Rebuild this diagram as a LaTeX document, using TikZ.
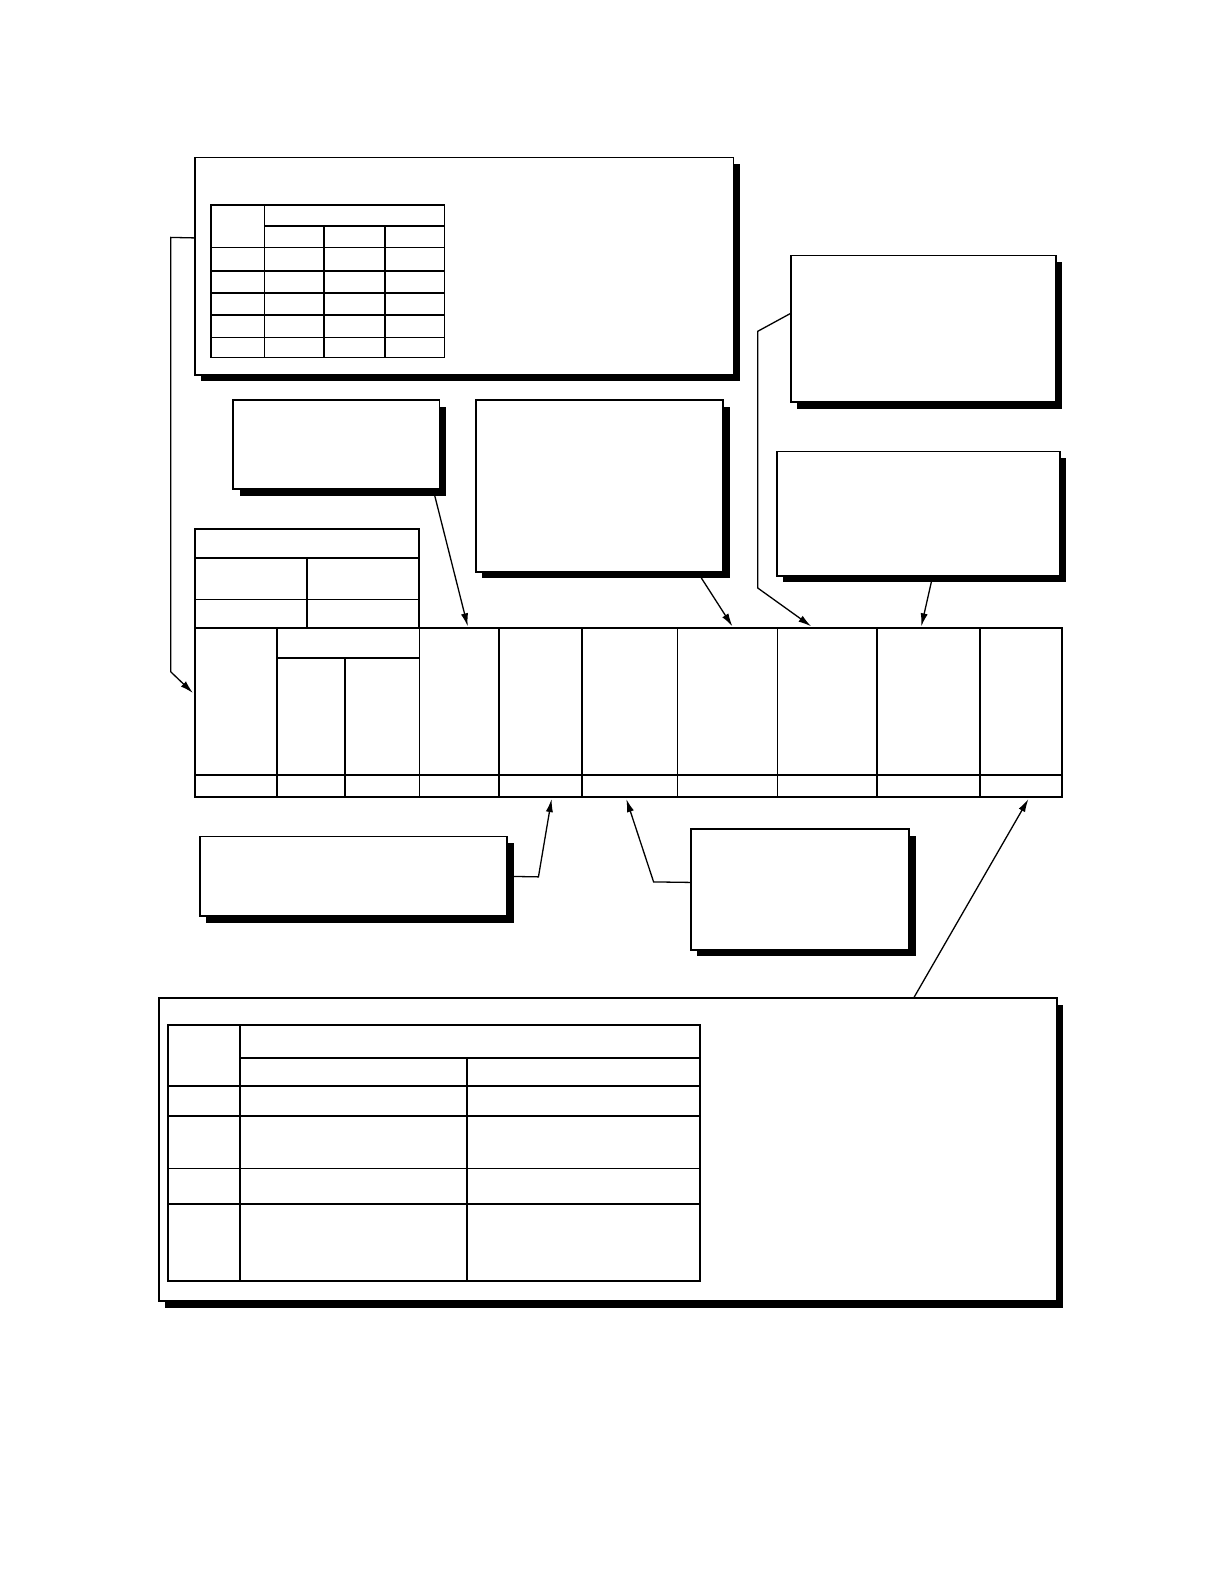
\documentclass[tikz,border=0pt]{standalone}
\usetikzlibrary{arrows.meta,shadows,fit,calc}

\tikzset{
  panel/.style={draw=black, line width=0.9pt, fill=white, inner sep=0pt,
    drop shadow={shadow xshift=3.2pt, shadow yshift=-3.3pt, fill=black, opacity=1}},
  grid/.style={line width=1pt},
  fine/.style={line width=0.55pt},
  lead/.style={line width=0.65pt, -{Latex[length=6.5pt,width=3.6pt]}}
}

\begin{document}
\begin{tikzpicture}
  [x=0.505pt,y=-0.505pt,line width=0.8pt]
  \useasboundingbox (0,0) rectangle (1212,1568);

  % callout panels
  \node[panel, fit={(193,156) (726,371)}] (keyA) {};
  \node[panel, fit={(231,396) (435,484)}] (noteB) {};
  \node[panel, fit={(471,396) (716,566)}] (noteC) {};
  \node[panel, fit={(783,253) (1045,398)}] (noteD) {};
  \node[panel, fit={(769,447) (1049,570)}] (noteE) {};
  \node[panel, fit={(198,828) (502,907)}] (noteF) {};
  \node[panel, fit={(684,821) (900,940)}] (noteG) {};
  \node[panel, fit={(157,988) (1046,1288)}] (keyH) {};

  % table inside top panel
  \draw (209,203) rectangle (440,354);
  \foreach \y in {245,268,290,312,334}
    \draw (209,\y) -- (440,\y);
  \draw (262,224) -- (440,224);
  \draw (262,203) -- (262,354);
  \foreach \x in {321,381}
    \draw (\x,224) -- (\x,354);

  % heading block over the form
  \draw[grid] (193,524) rectangle (415,622);
  \draw[grid] (193,552) -- (415,552);
  \draw[fine] (193,593) -- (415,593);
  \draw[grid] (304,552) -- (304,622);

  % main form
  \draw[grid] (193,622) rectangle (1051,789);
  \draw[grid] (193,767) -- (1051,767);
  \foreach \x in {274,494,576,868,970}
    \draw[grid] (\x,622) -- (\x,789);
  \foreach \x in {415,671,770}
    \draw[fine] (\x,622) -- (\x,789);
  \draw[grid] (274,651) -- (415,651);
  \draw[grid] (342,651) -- (342,789);

  % table inside bottom panel
  \draw[grid] (166,1015) rectangle (693,1268);
  \foreach \y in {1105,1192}
    \draw[grid] (166,\y) -- (693,\y);
  \foreach \y in {1075,1157}
    \draw[fine] (166,\y) -- (693,\y);
  \draw[grid] (238,1047) -- (693,1047);
  \draw[grid] (238,1015) -- (238,1268);
  \draw[grid] (462,1047) -- (462,1268);

  % arrow targets on the form
  \coordinate (t1) at (191,686);
  \coordinate (t2) at (463,620);
  \coordinate (t3) at (725,620);
  \coordinate (t4) at (803,620);
  \coordinate (t5) at (912,620);
  \coordinate (t6) at (546,791);
  \coordinate (t7) at (620,791);
  \coordinate (t8) at (1018,791);

  % leaders
  \draw[lead] ($(keyA.west)+(0,-28)$) -- (169,235) -- (169,665) -- (t1);
  \draw[lead] ($(noteB.south east)+(-7,0)$) -- (t2);
  \draw[lead] ($(noteC.south east)+(-26,0)$) -- (t3);
  \draw[lead] ($(noteD.west)+(0,-15)$) -- (750,328) -- (750,582) -- (t4);
  \draw[lead] ($(noteE.south west)+(155,0)$) -- (t5);
  \draw[lead] (noteF.east) -- (533,868) -- (t6);
  \draw[lead] ($(noteG.west)+(0,-7)$) -- (647,873) -- (t7);
  \draw[lead] ($(keyH.north east)+(-142,0)$) -- (t8);

\end{tikzpicture}
\end{document}
